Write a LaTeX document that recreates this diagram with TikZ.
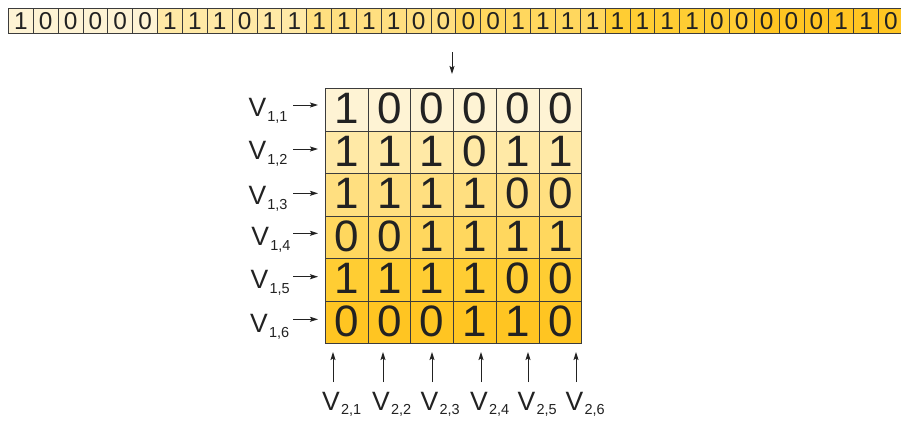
\documentclass[tikz,border=0pt]{standalone}
\usepackage{fontspec}
\setmainfont{Liberation Sans}
\usetikzlibrary{arrows.meta}
% one shade per group of six bits / per matrix row
\definecolor{g0}{HTML}{FEF3D4}
\definecolor{g1}{HTML}{FFE9A6}
\definecolor{g2}{HTML}{FFDF80}
\definecolor{g3}{HTML}{FFD75E}
\definecolor{g4}{HTML}{FFCD33}
\definecolor{g5}{HTML}{FFC522}
\definecolor{ink}{HTML}{222222}
\definecolor{gridc}{HTML}{3C3C3C}
\tikzset{
  bitcell/.style={draw=gridc, line width=0.8pt, inner sep=0pt, anchor=north west,
    minimum width=24.86pt, minimum height=25pt, text=ink,
    font=\fontsize{24.4}{24.4}\selectfont, text height=17.5pt, text depth=0pt},
  matcell/.style={draw=gridc, line width=0.8pt, inner sep=0pt, anchor=north west,
    minimum width=42.7pt, minimum height=42.5pt, text=ink,
    font=\fontsize{44}{44}\selectfont, text height=31.5pt, text depth=3.6pt},
  vlabel/.style={inner sep=0pt, anchor=base west, text=ink,
    font=\fontsize{26.5}{26.5}\selectfont},
  arr/.style={draw=ink, line width=1pt, -{Stealth[length=8pt,width=5pt,inset=1.5pt]}},
}
\newcommand{\vsub}[2]{V\kern1.2pt\raisebox{#1}{\fontsize{14.5}{14.5}\selectfont #2}}
\begin{document}
\begin{tikzpicture}[x=1pt,y=-1pt]
\useasboundingbox (0,0) rectangle (901,421);
\clip (0,0) rectangle (901,421);
\fill[white] (0,0) rectangle (901,421);

% the bit string
\foreach \b [count=\i from 0] in {1,0,0,0,0,0, 1,1,1,0,1,1, 1,1,1,1,0,0,
                                  0,0,1,1,1,1, 1,1,1,1,0,0, 0,0,0,1,1,0} {
  \pgfmathtruncatemacro\g{int(\i/6)}
  \node[bitcell, fill=g\g] (s\i) at ({8+24.86*\i}, 8) {\b};
}

% the 6x6 matrix
\foreach \row [count=\r from 0] in {{1,0,0,0,0,0},{1,1,1,0,1,1},{1,1,1,1,0,0},
                                    {0,0,1,1,1,1},{1,1,1,1,0,0},{0,0,0,1,1,0}} {
  \foreach \b [count=\c from 0] in \row {
    \node[matcell, fill=g\r] (m\r\c) at ({325+42.7*\c}, {88+42.5*\r}) {\b};
  }
}

% arrow from the string into the matrix
\coordinate (ta) at (452,52);
\coordinate (tb) at (452,74);
\draw[arr] (ta) -- (tb);

% row labels V_{1,k}
\foreach \k/\x/\yb/\ya in {1/248.3/116/105, 2/248.3/159/149, 3/248.3/204/193.3,
                           4/251.2/245/233.3, 5/250.5/288/276.7, 6/250/332/319.3} {
  \node[vlabel] (lr\k) at (\x,\yb) {\vsub{-5.5pt}{1,\k}};
  \coordinate (ra\k) at (293,\ya);
  \coordinate (rb\k) at (318,\ya);
  \draw[arr] (ra\k) -- (rb\k);
}

% column labels V_{2,k}
\foreach \k/\x/\xa in {1/322/333, 2/372/383, 3/420.5/432, 4/470/481, 5/517.5/528, 6/565.5/576} {
  \node[vlabel] (lc\k) at (\x,410) {\vsub{-4pt}{2,\k}};
  \coordinate (ca\k) at (\xa,382);
  \coordinate (cb\k) at (\xa,352);
  \draw[arr] (ca\k) -- (cb\k);
}
\end{tikzpicture}
\end{document}
